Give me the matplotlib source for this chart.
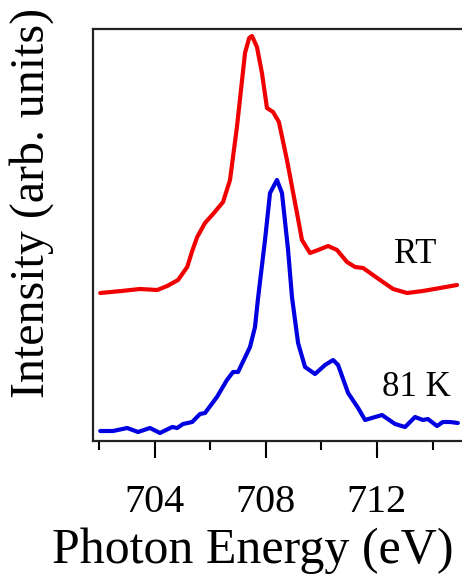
import matplotlib
matplotlib.use("Agg")
import matplotlib.pyplot as plt
from matplotlib.ticker import MultipleLocator

plt.rcParams['font.family'] = ['Liberation Serif', 'DejaVu Serif']

# RT spectrum
rt_energy = [702.04, 702.80, 703.47, 704.09, 704.45, 704.84, 705.17, 705.35, 705.53, 705.81,
             706.10, 706.46, 706.71, 706.96, 707.25, 707.40, 707.50, 707.68, 707.86, 708.04,
             708.26, 708.47, 708.76, 709.12, 709.30, 709.59, 709.88, 710.24, 710.56, 710.92,
             711.21, 711.50, 712.11, 712.58, 713.08, 713.65, 714.27, 714.88]
rt_intensity = [1.48, 1.50, 1.52, 1.51, 1.55, 1.61, 1.74, 1.90, 2.04, 2.18,
                2.27, 2.39, 2.61, 3.14, 3.88, 4.03, 4.05, 3.94, 3.68, 3.33,
                3.29, 3.19, 2.81, 2.28, 2.01, 1.88, 1.91, 1.95, 1.91, 1.79,
                1.74, 1.73, 1.61, 1.52, 1.48, 1.50, 1.53, 1.56]

# 81 K spectrum
lt_energy = [702.04, 702.50, 703.01, 703.40, 703.83, 704.19, 704.63, 704.81, 705.02, 705.35,
             705.63, 705.81, 706.24, 706.60, 706.82, 707.00, 707.43, 707.61, 707.72, 707.97,
             708.15, 708.40, 708.58, 708.80, 708.94, 709.16, 709.41, 709.77, 710.13, 710.42,
             710.60, 710.96, 711.32, 711.57, 712.18, 712.65, 713.01, 713.37, 713.65, 713.83,
             714.16, 714.37, 714.63, 714.91]
lt_intensity = [0.10, 0.10, 0.13, 0.09, 0.13, 0.08, 0.14, 0.13, 0.17, 0.19,
                0.27, 0.28, 0.44, 0.61, 0.69, 0.69, 0.94, 1.14, 1.43, 2.01,
                2.48, 2.61, 2.48, 1.91, 1.44, 0.98, 0.74, 0.67, 0.76, 0.81,
                0.76, 0.48, 0.33, 0.21, 0.26, 0.17, 0.14, 0.24, 0.21, 0.22,
                0.15, 0.19, 0.19, 0.18]

major_ticks = [704, 708, 712]
tick_labels = ["704", "708", "712"]

fig = plt.figure(figsize=(4.62, 5.78), dpi=100)
ax = fig.add_axes([93/462, 1-441/578, (468.7-93)/462, (441-29)/578])

ax.plot(rt_energy, rt_intensity, color='#f00000', lw=3.0, solid_joinstyle='round',
        solid_capstyle='round')
ax.plot(lt_energy, lt_intensity, color='#0000e0', lw=3.0, solid_joinstyle='round',
        solid_capstyle='round')

ax.set_xlim(701.78, 715.3)
ax.set_ylim(0, 4.12)

ax.set_xticks(major_ticks)
ax.set_xticklabels(tick_labels)
ax.xaxis.set_minor_locator(MultipleLocator(2))
ax.tick_params(axis='x', which='major', direction='out', length=12, width=1.5,
               labelsize=29, pad=19, top=False)
ax.tick_params(axis='x', which='minor', direction='out', length=6.5, width=1.5, top=False)
ax.set_yticks([])
for s in ax.spines.values():
    s.set_linewidth(1.6)
    s.set_color('#222222')

ax.text(713.37, 1.78, "RT", fontsize=25, ha='center', va='baseline')
ax.text(713.40, 0.45, "81 K", fontsize=25, ha='center', va='baseline')

fig.text(253/462, 1-563/578, "Photon Energy (eV)", fontsize=36, ha='center', va='baseline')
fig.text(32/462, 1-203/578, "Intensity (arb. units)", fontsize=34.5, ha='center', va='center',
         rotation=90)

fig.savefig("out.png", dpi=100)
